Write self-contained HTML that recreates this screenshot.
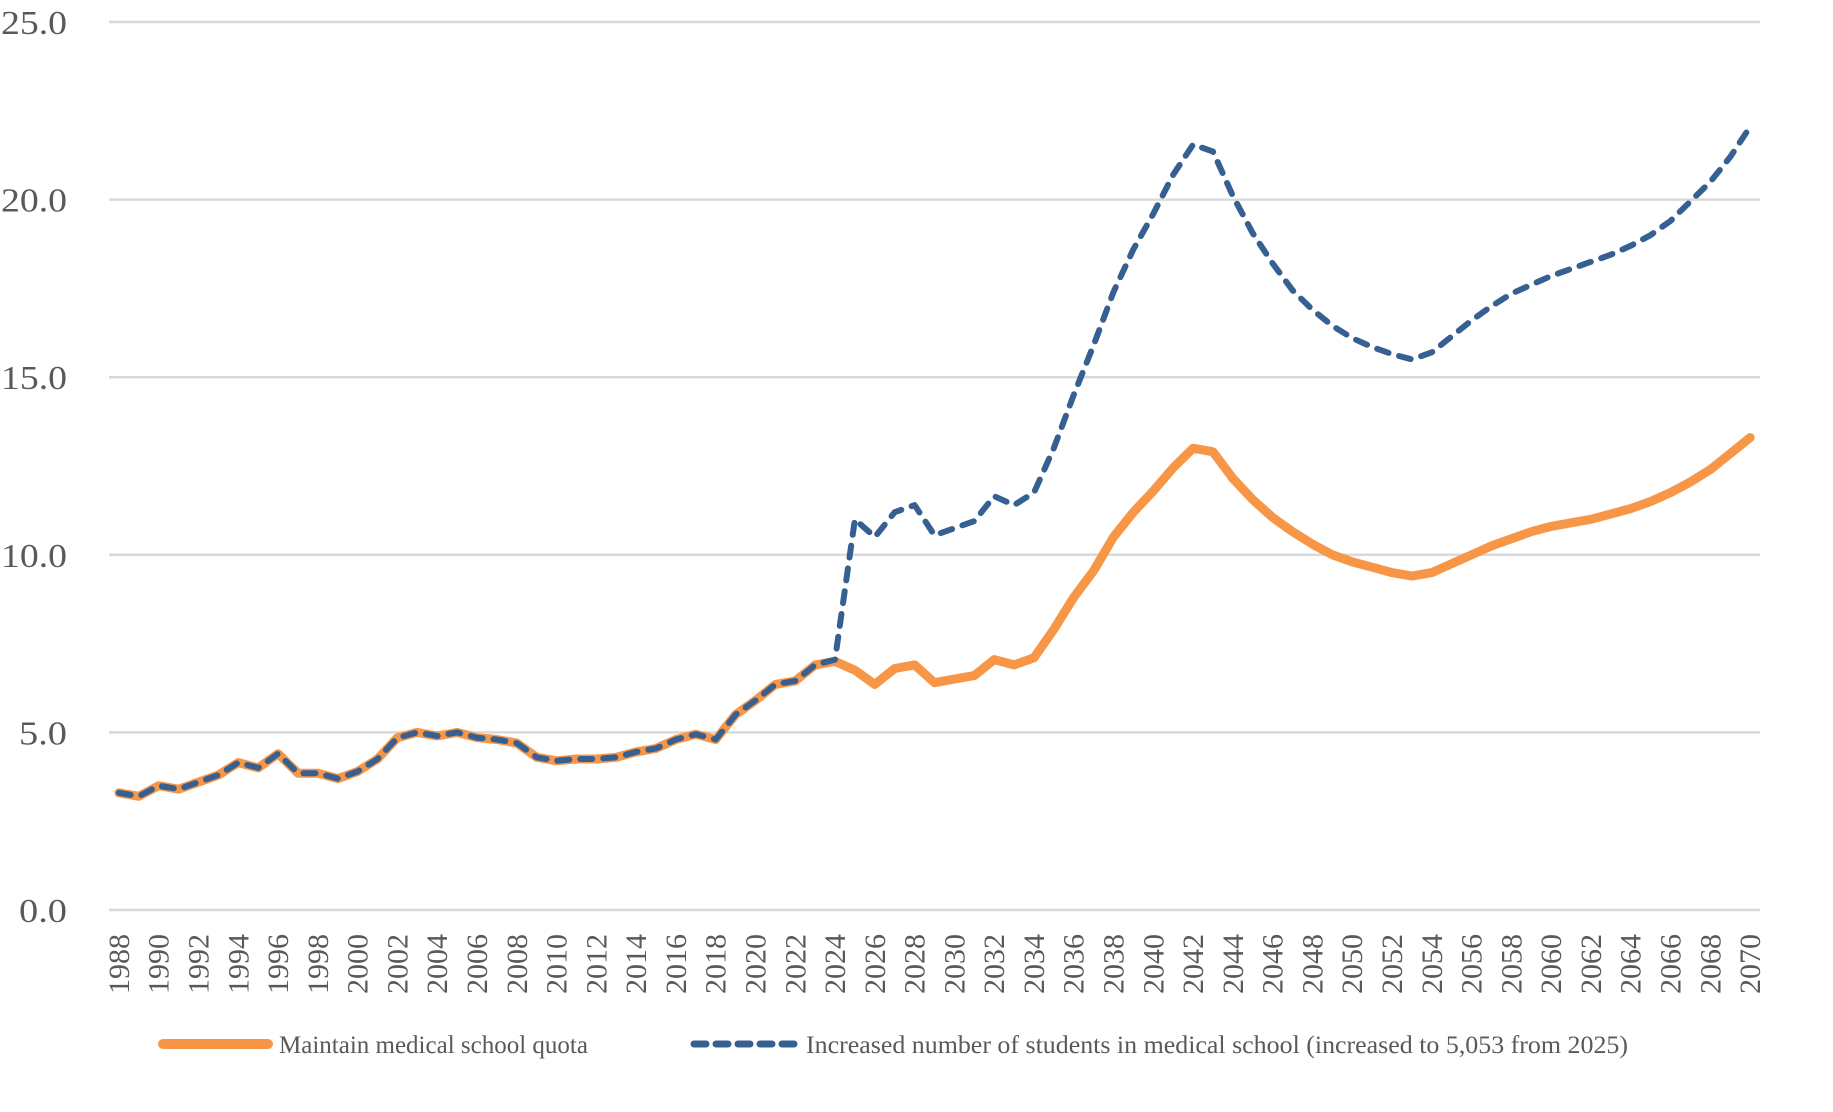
<!DOCTYPE html>
<html><head><meta charset="utf-8"><style>
html,body{margin:0;padding:0;background:#fff;}
svg{display:block;}
text{font-family:"Liberation Serif",serif;fill:#595959;}
</style></head><body>
<svg id="chart" width="1833" height="1112" viewBox="0 0 1833 1112" xmlns="http://www.w3.org/2000/svg">
<g id="grid"></g>
<g id="yaxis"></g>
<g id="xaxis"></g>
<g id="series"></g>
<g id="legend">
  <g>
    <line x1="163" y1="1044" x2="268" y2="1044" stroke="#F79646" stroke-width="10" stroke-linecap="round"/>
    <text x="279" y="1053" font-size="25">Maintain medical school quota</text>
  </g>
  <g>
    <line x1="694" y1="1044" x2="796" y2="1044" stroke="#366092" stroke-width="7" stroke-linecap="round" stroke-dasharray="12 10"/>
    <text x="806" y="1053" font-size="25" textLength="822" lengthAdjust="spacingAndGlyphs">Increased number of students in medical school (increased to 5,053 from 2025)</text>
  </g>
</g>
</svg>
<script>
const years = [];
for (let y = 1988; y <= 2070; y++) years.push(y);
const yTicks = [0, 5, 10, 15, 20, 25];
const yTickLabels = ["0.0", "5.0", "10.0", "15.0", "20.0", "25.0"];
const maintainQuota = [3.3,3.2,3.5,3.4,3.6,3.8,4.15,4.0,4.4,3.85,3.85,3.7,3.9,4.25,4.85,5.0,4.9,5.0,4.85,4.8,4.7,4.3,4.2,4.25,4.25,4.3,4.45,4.55,4.8,4.95,4.8,5.5,5.9,6.35,6.45,6.9,7.0,6.75,6.35,6.8,6.9,6.4,6.5,6.6,7.05,6.9,7.1,7.9,8.8,9.55,10.5,11.2,11.8,12.45,13.0,12.9,12.15,11.55,11.05,10.65,10.3,10.0,9.8,9.65,9.5,9.4,9.5,9.75,10.0,10.25,10.45,10.65,10.8,10.9,11.0,11.15,11.3,11.5,11.75,12.05,12.4,12.85,13.3];
const increasedStudents = [3.3,3.2,3.5,3.4,3.6,3.8,4.15,4.0,4.4,3.85,3.85,3.7,3.9,4.25,4.85,5.0,4.9,5.0,4.85,4.8,4.7,4.3,4.2,4.25,4.25,4.3,4.45,4.55,4.8,4.95,4.8,5.5,5.9,6.35,6.45,6.9,7.05,11.0,10.5,11.2,11.4,10.55,10.75,10.95,11.65,11.4,11.75,13.0,14.5,15.9,17.4,18.6,19.6,20.7,21.55,21.35,20.1,19.05,18.2,17.45,16.9,16.45,16.1,15.85,15.65,15.5,15.7,16.15,16.6,17.0,17.35,17.6,17.85,18.05,18.25,18.45,18.7,19.0,19.4,19.95,20.5,21.2,22.05];

const NS = "http://www.w3.org/2000/svg";
const L = 109, R = 1760, T = 22, B = 910, YMAX = 25;
const band = (R - L) / years.length;
const xs = i => L + band * (i + 0.5);
const ys = v => B - (v / YMAX) * (B - T);
function mk(tag, parent) { const e = document.createElementNS(NS, tag); parent.appendChild(e); return e; }

const grid = document.getElementById('grid');
const yaxis = document.getElementById('yaxis');
yTicks.forEach((t, i) => {
  const g = mk('line', grid);
  
  
  g.setAttribute('x1', L); g.setAttribute('x2', R);
  g.setAttribute('y1', ys(t)); g.setAttribute('y2', ys(t));
  g.setAttribute('stroke', '#D9D9D9'); g.setAttribute('stroke-width', '2.5');
  const tx = mk('text', yaxis);
  
  
  const lbl = yTickLabels[i];
  const w = lbl.length === 4 ? 66 : 48;
  tx.setAttribute('x', 67 - w); tx.setAttribute('y', ys(t) + 12);
  tx.setAttribute('font-size', '34');
  tx.setAttribute('textLength', w);
  tx.setAttribute('lengthAdjust', 'spacingAndGlyphs');
  tx.textContent = lbl;
});

const xaxis = document.getElementById('xaxis');
years.forEach((yr, i) => {
  if (i % 2 !== 0) return;
  const tx = mk('text', xaxis);
  
  
  const x = xs(i) + 10, y = 934;
  tx.setAttribute('transform', `translate(${x},${y}) rotate(-90)`);
  tx.setAttribute('text-anchor', 'end'); tx.setAttribute('font-size', '30');
  tx.textContent = String(yr);
});

const series = document.getElementById('series');
function path(vals) { return vals.map((v, i) => (i ? 'L' : 'M') + xs(i).toFixed(1) + ',' + ys(v).toFixed(1)).join(' '); }
const p1 = mk('path', series);


p1.setAttribute('d', path(maintainQuota));
p1.setAttribute('fill', 'none'); p1.setAttribute('stroke', '#F79646');
p1.setAttribute('stroke-width', '9'); p1.setAttribute('stroke-linejoin', 'round'); p1.setAttribute('stroke-linecap', 'round');
const p2 = mk('path', series);


p2.setAttribute('d', path(increasedStudents));
p2.setAttribute('fill', 'none'); p2.setAttribute('stroke', '#366092');
p2.setAttribute('stroke-width', '6'); p2.setAttribute('stroke-linejoin', 'round'); p2.setAttribute('stroke-linecap', 'round');
p2.setAttribute('stroke-dasharray', '12 11');
</script>
</body></html>
